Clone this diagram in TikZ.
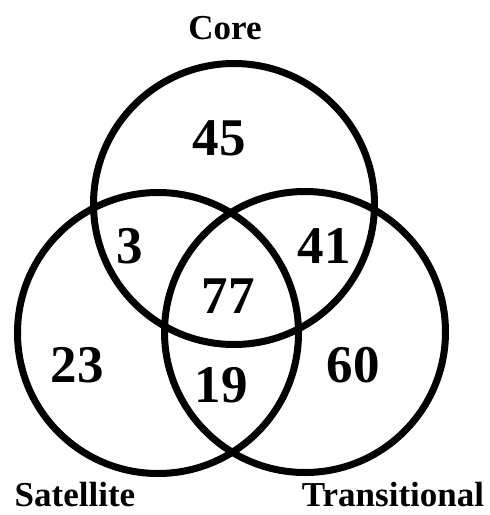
\documentclass[tikz,border=0pt]{standalone}
\usepackage{fontspec}
\setmainfont{Liberation Serif}
\usepackage{tikz}
\usetikzlibrary{positioning}

\begin{document}
\begin{tikzpicture}[
    x=1pt, y=-1pt,
    set/.style={draw=black, line width=7pt, circle, minimum size=281pt, inner sep=0pt},
    num/.style={font=\fontsize{53}{53}\selectfont\bfseries, inner sep=0pt},
    lbl/.style={font=\fontsize{35}{35}\selectfont\bfseries, inner sep=0pt, anchor=base}
]
\useasboundingbox (0,0) rectangle (490,515);

% the three sets
\node[set] (core)  at (234, 204) {};
\node[set] (sat)   at (158, 333) {};
\node[set] (trans) at (305, 332) {};

% set names
\node[lbl] (corelbl)  at (225, 39)  {Core};
\node[lbl] (satlbl)   at (75, 506)  {Satellite};
\node[lbl] (translbl) at (393, 506) {Transitional};

% counts
\node[num] (n45) at (219, 138) {45};
\node[num] (n3)  at (130, 246) {3};
\node[num] (n41) at (324, 246) {41};
\node[num] (n77) at (228, 296) {77};
\node[num] (n23) at (77, 365)  {23};
\node[num] (n19) at (221, 385) {19};
\node[num] (n60) at (353, 365) {60};
\end{tikzpicture}
\end{document}
